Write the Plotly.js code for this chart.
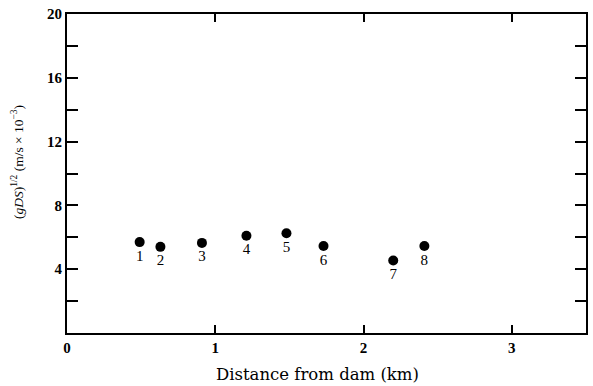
<!DOCTYPE html>
<html>
<head>
<meta charset="utf-8">
<script src="https://cdn.plot.ly/plotly-3.0.1.min.js"></script>
<style>html,body{margin:0;padding:0;background:#fff;}#chart{width:593px;height:386px;}</style>
</head>
<body>
<div id="chart"></div>
<script>
// Data
const distanceKm = [0.49, 0.63, 0.91, 1.21, 1.48, 1.73, 2.20, 2.41];
const shearVelocity = [5.7, 5.4, 5.65, 6.1, 6.25, 5.45, 4.55, 5.45];
const siteLabels = ['1', '2', '3', '4', '5', '6', '7', '8'];
const xTickVals = [0, 1, 2, 3];
const xTickText = ['0', '1', '2', '3'];
const yTickVals = [4, 8, 12, 16, 20];
const yTickText = ['4', '8', '12', '16', '20'];
const xTitle = 'Distance from dam (km)';
const yTitle = '(<i>gDS</i>)<sup>1/2</sup> (m/s × 10<sup>−3</sup>)';

const serif = 'Liberation Serif, DejaVu Serif, Times New Roman, serif';
const wideSerif = 'DejaVu Serif, Liberation Serif, serif';

const trace = {
  x: distanceKm,
  y: shearVelocity,
  text: siteLabels,
  mode: 'markers+text',
  type: 'scatter',
  textposition: 'bottom center',
  textfont: {family: serif, size: 15, color: 'black'},
  marker: {size: 10, color: 'black'},
  cliponaxis: false,
  hoverinfo: 'none'
};

const axisCommon = {
  ticks: 'inside',
  tickwidth: 2,
  tickcolor: '#000',
  showline: true,
  linewidth: 2,
  linecolor: '#000',
  mirror: 'allticks',
  showgrid: false,
  zeroline: false,
  tickfont: {family: serif, size: 15, weight: 'bold', color: '#000'}
};

const layout = {
  width: 593,
  height: 386,
  margin: {l: 67, r: 7, t: 14, b: 53},
  paper_bgcolor: '#fff',
  plot_bgcolor: '#fff',
  showlegend: false,
  font: {family: serif, color: '#000'},
  xaxis: Object.assign({}, axisCommon, {
    range: [0, 3.5],
    tickvals: xTickVals,
    ticktext: xTickText,
    ticklen: 8
  }),
  yaxis: Object.assign({}, axisCommon, {
    range: [0, 20],
    tickvals: yTickVals,
    ticktext: yTickText,
    ticklen: 11,
    minor: {tick0: 0, dtick: 2, ticks: 'inside', ticklen: 11, tickwidth: 2, tickcolor: '#000', showgrid: false}
  }),
  annotations: [
    {
      text: xTitle,
      xref: 'paper', yref: 'paper',
      x: 0.483, y: -0.13,
      xanchor: 'center', yanchor: 'middle',
      showarrow: false,
      font: {family: wideSerif, size: 16.5, color: '#000'}
    },
    {
      text: yTitle,
      xref: 'paper', yref: 'paper',
      x: -0.095, y: 0.535,
      xanchor: 'center', yanchor: 'middle',
      textangle: -90,
      showarrow: false,
      font: {family: serif, size: 13.5, color: '#000'}
    }
  ]
};

Plotly.newPlot('chart', [trace], layout, {displayModeBar: false, staticPlot: true});
</script>
</body>
</html>
